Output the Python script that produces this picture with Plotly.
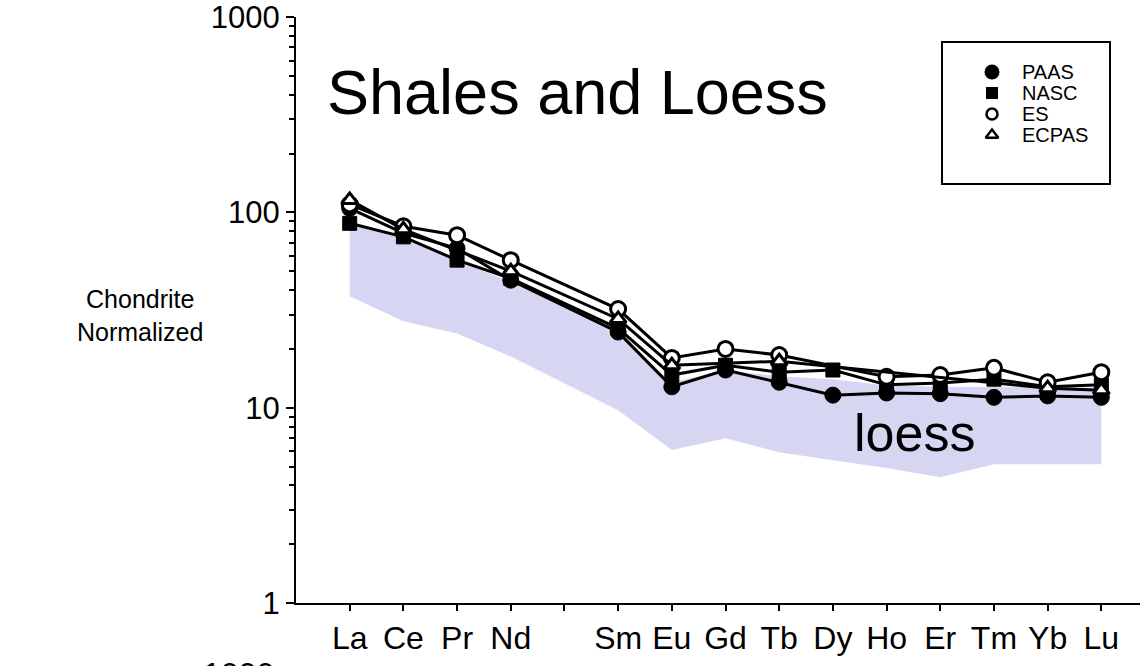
import plotly.graph_objects as go

# ---- data -----------------------------------------------------------------
AXIS_ORDER = ["La", "Ce", "Pr", "Nd", "Pm", "Sm", "Eu", "Gd", "Tb", "Dy", "Ho", "Er", "Tm", "Yb", "Lu"]
TICK_TEXT = ["La", "Ce", "Pr", "Nd", "", "Sm", "Eu", "Gd", "Tb", "Dy", "Ho", "Er", "Tm", "Yb", "Lu"]
REE = ["La", "Ce", "Pr", "Nd", "Sm", "Eu", "Gd", "Tb", "Dy", "Ho", "Er", "Tm", "Yb", "Lu"]

paas = [105, 78.5, 65.5, 45, 24.4, 12.8, 15.6, 13.5, 11.6, 11.9, 11.8, 11.3, 11.5, 11.3]
nasc = [88, 75, 57, 46, 25.5, 14.7, 16.5, 15.2, 15.6, 13.1, 13.4, 14.0, 12.8, 13.1]
es = [110, 85, 76.5, 57, 32, 18, 20, 18.6, None, 14.4, 14.7, 16.0, 13.5, 15.2]
ecpas = [116, 82, None, 50, 28.5, 16.5, None, 17.3, None, None, None, None, 12.6, 12.3]

loess_upper = [88, 74, 57, 44, 24, 13.5, 15.5, 14.5, 14.0, 13.0, 12.8, 12.8, 12.7, 12.7]
loess_lower = [37.2, 27.7, 24.0, 18.3, 9.7, 6.07, 6.98, 5.92, 5.39, 4.91, 4.41, 5.14, 5.14, 5.14]

Y_TICKS = [1, 10, 100, 1000]
Y_TICK_TEXT = ["1", "10", "100", "1000"]

# ---- layout constants (page pixels) ---------------------------------------
W, H = 1140, 666
L, R, T, B = 296, 0, 17, 63
PW, PH = W - L - R, H - T - B
FONT = "Liberation Sans, Arial, sans-serif"
BAND = "#d6d6f2"


def px(x):
    return (x - L) / PW


def py(y):
    return (H - B - y) / PH


fig = go.Figure()

# loess envelope
fig.add_trace(go.Scatter(
    x=REE + REE[::-1],
    y=loess_upper + loess_lower[::-1],
    mode="lines", fill="toself", fillcolor=BAND,
    line=dict(width=0, color=BAND), hoverinfo="skip", showlegend=False,
))

series = [
    ("PAAS", paas, dict(symbol="circle", size=16, color="black",
                        line=dict(color="black", width=1))),
    ("NASC", nasc, dict(symbol="square", size=14, color="black",
                        line=dict(color="black", width=1))),
    ("ES", es, dict(symbol="circle", size=15, color="white",
                    line=dict(color="black", width=3))),
    ("ECPAS", ecpas, dict(symbol="triangle-up", size=14, color="white",
                          line=dict(color="black", width=3))),
]
for name, vals, mk in series:
    fig.add_trace(go.Scatter(
        x=REE, y=vals, name=name, mode="lines+markers",
        connectgaps=True, line=dict(color="black", width=3),
        marker=mk, showlegend=False,
    ))

# legend drawn on a pixel-unit overlay axis pair
LEG_X_MARK, LEG_X_TEXT = 992, 1020
LEG_Y = [72, 93, 114, 135]
legend_markers = [
    dict(symbol="circle", size=15, color="black"),
    dict(symbol="square", size=12, color="black"),
    dict(symbol="circle-open", size=11, color="black", line=dict(width=2.5)),
    dict(symbol="triangle-up-open", size=11, color="black", line=dict(width=2.5)),
]
for (name, _, _), mk, yy in zip(series, legend_markers, LEG_Y):
    fig.add_trace(go.Scatter(
        x=[LEG_X_MARK], y=[yy], mode="markers", marker=mk,
        xaxis="x2", yaxis="y2", hoverinfo="skip", showlegend=False,
    ))
    fig.add_annotation(
        x=LEG_X_TEXT, y=yy, xref="x2", yref="y2", text=name,
        xanchor="left", yanchor="middle", showarrow=False,
        font=dict(family=FONT, size=20, color="black"),
    )

fig.add_shape(
    type="rect", xref="x2", yref="y2", x0=942, x1=1110, y0=42, y1=184,
    line=dict(color="black", width=2), fillcolor="rgba(0,0,0,0)",
)

# text labels
fig.add_annotation(
    x=px(325), y=py(92), xref="paper", yref="paper", text="Shales and Loess",
    xanchor="left", yanchor="middle", showarrow=False,
    font=dict(family=FONT, size=63, color="black"),
)
fig.add_annotation(
    x=px(852), y=py(433), xref="paper", yref="paper", text="loess",
    xanchor="left", yanchor="middle", showarrow=False,
    font=dict(family=FONT, size=52, color="black"),
)
fig.add_annotation(
    x=px(140), y=py(315), xref="paper", yref="paper",
    text="Chondrite<br>Normalized", align="center",
    xanchor="center", yanchor="middle", showarrow=False,
    font=dict(family=FONT, size=25, color="black"),
)
fig.add_annotation(
    x=px(276), y=py(654), xref="paper", yref="paper", text="1000",
    xanchor="right", yanchor="top", showarrow=False,
    font=dict(family=FONT, size=32, color="black"),
)

fig.update_layout(
    width=W, height=H,
    margin=dict(l=L, r=R, t=T, b=B, pad=0),
    paper_bgcolor="white", plot_bgcolor="white",
    font=dict(family=FONT, color="black"),
    showlegend=False,
    xaxis=dict(
        type="category", categoryorder="array", categoryarray=AXIS_ORDER,
        tickmode="array", tickvals=AXIS_ORDER, ticktext=TICK_TEXT,
        range=[-1.0, 14.72], showgrid=False, zeroline=False,
        showline=True, linecolor="black", linewidth=2,
        ticks="outside", ticklen=6, tickwidth=2, tickcolor="black",
        tickfont=dict(family=FONT, size=32, color="black"),
        fixedrange=True,
    ),
    yaxis=dict(
        type="log", range=[0, 3.001], showgrid=False, zeroline=False,
        showline=True, linecolor="black", linewidth=2,
        tickmode="array", tickvals=Y_TICKS, ticktext=Y_TICK_TEXT,
        ticks="outside", ticklen=8, tickwidth=2, tickcolor="black",
        tickfont=dict(family=FONT, size=31, color="black"),
        minor=dict(ticks="outside", ticklen=5, tickwidth=1.5,
                   tickcolor="black", dtick="D1", showgrid=False),
        fixedrange=True,
    ),
    xaxis2=dict(overlaying="x", range=[L, W - R], visible=False, fixedrange=True),
    yaxis2=dict(overlaying="y", range=[H - B, T], visible=False, fixedrange=True),
)

fig.write_html("out.html")
